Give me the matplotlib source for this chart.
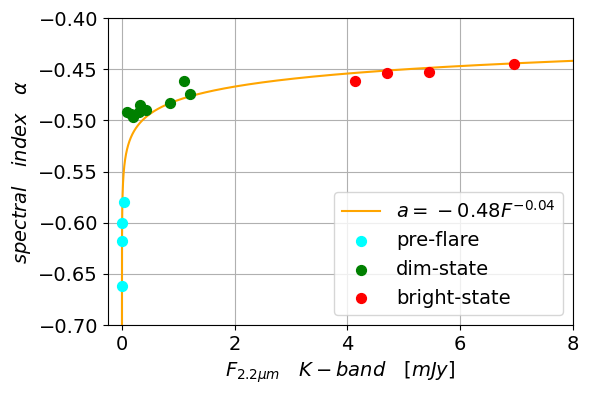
import numpy as np
import matplotlib
matplotlib.use("Agg")
import matplotlib.pyplot as plt

pre_x = [0.04, 0.0, 0.0, 0.0]
pre_y = [-0.580, -0.600, -0.618, -0.662]
dim_x = [0.09, 0.16, 0.19, 0.30, 0.32, 0.42, 0.85, 1.10, 1.20]
dim_y = [-0.492, -0.494, -0.497, -0.492, -0.485, -0.490, -0.483, -0.461, -0.474]
bright_x = [4.13, 4.70, 5.44, 6.95]
bright_y = [-0.461, -0.454, -0.453, -0.445]
fit_a = -0.48
fit_b = -0.04

fig, ax = plt.subplots(figsize=(5.89, 3.95), dpi=100)
fig.subplots_adjust(left=0.183, right=0.973, top=0.954, bottom=0.177)

F = np.logspace(-6, np.log10(8.5), 2000)
ax.plot(F, fit_a * F ** fit_b, color='orange', label=r'$a=\:-\:0.48F^{-0.04}$')
ax.scatter(pre_x, pre_y, color='cyan', s=50, label='pre-flare', zorder=3)
ax.scatter(dim_x, dim_y, color='green', s=50, label='dim-state', zorder=3)
ax.scatter(bright_x, bright_y, color='red', s=50, label='bright-state', zorder=3)

ax.set_xlim(-0.25, 8)
ax.set_ylim(-0.70, -0.40)
ax.set_xticks([0, 2, 4, 6, 8])
ax.set_yticks(np.arange(-0.70, -0.399, 0.05))
ax.tick_params(labelsize=14)
ax.grid(True)
ax.set_xlabel(r'$F_{2.2\mu m}\quad K-band\quad [mJy]$', fontsize=14)
ax.set_ylabel(r'$spectral\quad index\quad \alpha$', fontsize=14)
ax.legend(loc='lower right', fontsize=14)

fig.savefig('out.png', dpi=100)
